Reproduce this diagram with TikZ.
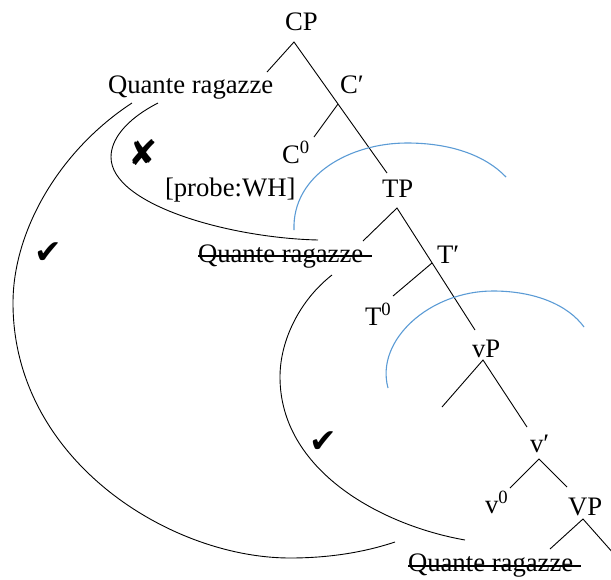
\documentclass[tikz,border=0pt]{standalone}
\usepackage{fontspec}
\setmainfont{Liberation Serif}
\newfontfamily\symfont{DejaVu Sans}
\usetikzlibrary{calc}
\definecolor{arcblue}{RGB}{91,155,213}
\tikzset{
  lbl/.style={inner sep=0pt, outer sep=0pt, font=\fontsize{26.7}{30}\selectfont},
  branch/.style={draw=black, line width=0.9pt},
  movearc/.style={draw=black, line width=0.9pt},
  bluearc/.style={draw=arcblue, line width=1.1pt},
  strike/.style={draw=black, line width=1.1pt},
  judgemark/.style={inner sep=0pt}
}
\begin{document}
\begin{tikzpicture}[x=1pt,y=-1pt]
\useasboundingbox (0,0) rectangle (611,579);
% labels
\node[lbl, anchor=base west] (cp) at (285,30) {CP};
\node[lbl, anchor=base west] (q1) at (108,93) {Quante ragazze};
\node[lbl, anchor=base west] (cbar) at (340,93) {C′};
\node[lbl, anchor=base west] (c0) at (282,163) {C\textsuperscript{0}};
\node[lbl, anchor=base west] (probe) at (165,196) {[probe:WH]};
\node[lbl, anchor=base west] (tp) at (382,197) {TP};
\node[lbl, anchor=base west] (q2) at (198,262) {Quante ragazze};
\node[lbl, anchor=base west] (tbar) at (437,263) {T′};
\node[lbl, anchor=base west] (t0) at (365,325) {T\textsuperscript{0}};
\node[lbl, anchor=base west] (vp) at (472,357) {vP};
\node[lbl, anchor=base west] (vbar) at (530,452) {v′};
\node[lbl, anchor=base west] (v0) at (485,513) {v\textsuperscript{0}};
\node[lbl, anchor=base west] (bigvp) at (568,515) {VP};
\node[lbl, anchor=base west] (q3) at (408,571) {Quante ragazze};
% strike-through lines
\draw[strike] ($(q2.base west)+(0,-6)$) -- ($(q2.base east)+(9,-6)$);
\draw[strike] ($(q3.base west)+(0,-5)$) -- ($(q3.base east)+(8,-5)$);
% tree coordinates
\coordinate (cpA) at (294,42);
\coordinate (cpL) at (267,72);
\coordinate (tpT) at (387,173);
\coordinate (cbA) at (338,104);
\coordinate (cbL) at (314,137);
\coordinate (tpA) at (397,208);
\coordinate (tpL) at (363,241);
\coordinate (vpT) at (475,330);
\coordinate (tbA) at (432,263);
\coordinate (tbL) at (393,296);
\coordinate (vpA) at (483,360);
\coordinate (vpL) at (442,407);
\coordinate (vbT) at (527,427);
\coordinate (vbA) at (539,459);
\coordinate (vbL) at (510,488);
\coordinate (vbR) at (567,487);
\coordinate (bvA) at (583,519);
\coordinate (bvL) at (550,549);
\coordinate (bvR) at (614,554);
% tree branches
\draw[branch] (cpL) -- (cpA) -- (tpT);
\draw[branch] (cbA) -- (cbL);
\draw[branch] (tpL) -- (tpA) -- (vpT);
\draw[branch] (tbA) -- (tbL);
\draw[branch] (vpL) -- (vpA) -- (vbT);
\draw[branch] (vbL) -- (vbA) -- (vbR);
\draw[branch] (bvL) -- (bvA) -- (bvR);
% movement arcs
\coordinate (o1) at (132,103);
\coordinate (o2) at (13,303);
\coordinate (o3) at (290,558);
\coordinate (o4) at (395,542);
\draw[movearc] (o1) .. controls (60,150) and (13,230) .. (o2)
  .. controls (13,460) and (170,558) .. (o3)
  .. controls (330,558) and (365,552) .. (o4);
\coordinate (i1) at (158,103);
\coordinate (i2) at (111,157);
\coordinate (i3) at (318,240);
\draw[movearc] (i1) .. controls (125,120) and (111,140) .. (i2)
  .. controls (111,205) and (230,238) .. (i3);
\coordinate (m1) at (332,275);
\coordinate (m2) at (280,377);
\coordinate (m3) at (465,540);
\draw[movearc] (m1) .. controls (300,300) and (280,340) .. (m2)
  .. controls (280,470) and (380,525) .. (m3);
% blue arcs
\coordinate (b1) at (294,230);
\coordinate (b2) at (407,143);
\coordinate (b3) at (506,177);
\draw[bluearc] (b1) .. controls (292,175) and (350,143) .. (b2)
  .. controls (450,143) and (485,155) .. (b3);
\coordinate (l1) at (388,388);
\coordinate (l2) at (493,291);
\coordinate (l3) at (584,327);
\draw[bluearc] (l1) .. controls (375,340) and (430,291) .. (l2)
  .. controls (535,291) and (568,305) .. (l3);
% judgement marks
\node[judgemark, font=\symfont\fontsize{33}{33}\selectfont] (ok1) at (48,253) {✔};
\node[judgemark, font=\symfont\fontsize{33}{33}\selectfont] (ok2) at (323,442) {✔};
\node[judgemark, font=\symfont\fontsize{35}{35}\selectfont] (bad) at (143,153) {✘};
\end{tikzpicture}
\end{document}
